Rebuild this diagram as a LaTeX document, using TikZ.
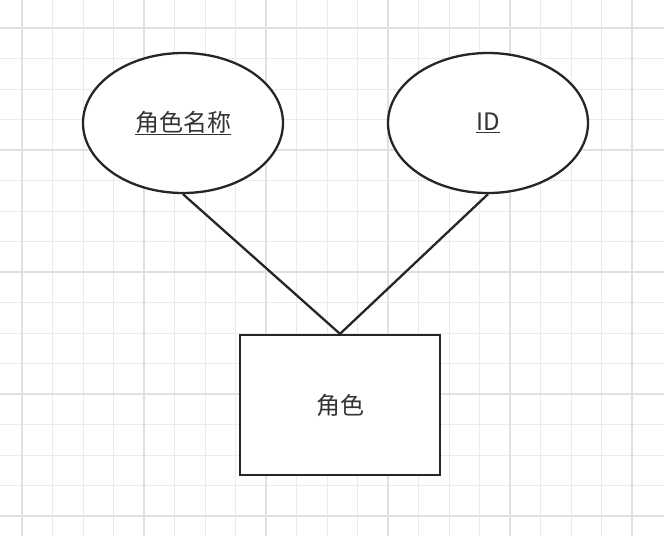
\documentclass[tikz,border=0pt]{standalone}
\usepackage{fontspec}
\setmainfont{Noto Sans CJK SC}
\usetikzlibrary{shapes.geometric}
\begin{document}
\begin{tikzpicture}[x=1pt,y=-1pt,
  ent/.style={draw=black!85,line width=2.3pt,fill=white,inner sep=0pt},
  lbl/.style={font=\fontsize{24}{28}\selectfont,text=black!80},
  conn/.style={draw=black!85,line width=2.3pt}]
\useasboundingbox (0,0) rectangle (664,536);
\fill[white] (0,0) rectangle (664,536);
\foreach \i in {0,...,21} {\draw[black!8,line width=1pt] ({22+30.5*\i-30.5},0) -- ++(0,536);}
\foreach \i in {0,...,18} {\draw[black!8,line width=1pt] (0,{28+30.5*\i-30.5}) -- ++(664,0);}
\foreach \i in {0,...,5} {\draw[black!12,line width=1.6pt] ({22+122*\i},0) -- ++(0,536);}
\foreach \i in {0,...,4} {\draw[black!12,line width=1.6pt] (0,{28+122*\i}) -- ++(664,0);}
\node[ent,ellipse,minimum width=200pt,minimum height=140pt] (a) at (183,123) {};
\node[lbl] at (a) {\underline{角色名称}};
\node[ent,ellipse,minimum width=200pt,minimum height=140pt] (b) at (488,123) {};
\node[lbl] at (b) {\underline{ID}};
\node[ent,rectangle,minimum width=200pt,minimum height=140pt] (r) at (340,405) {};
\node[lbl] at (r) {角色};
\draw[conn] (a.south) -- (r.north);
\draw[conn] (b.south) -- (r.north);
\end{tikzpicture}
\end{document}
